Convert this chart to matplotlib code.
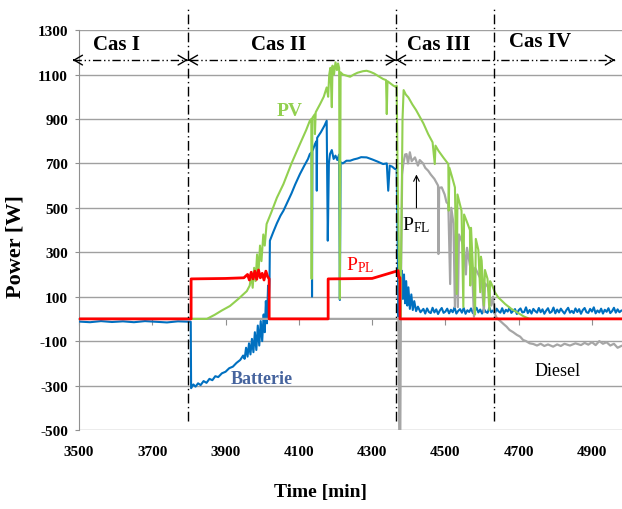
import matplotlib
matplotlib.use("Agg")
import matplotlib.pyplot as plt

plt.rcParams['font.family'] = ['Liberation Serif', 'DejaVu Serif']
plt.rcParams['axes.unicode_minus'] = False

# --- data (time in min, power in W) ---
pl_t = [3500, 3806, 3806, 3900, 3950, 3960, 3965, 3970, 3975, 3980, 3985, 3990,
        3995, 4000, 4005, 4010, 4015, 4019, 4019, 4180, 4180, 4300, 4371, 4373,
        4376, 4376, 4980]
pl_p = [0, 0, 180, 182, 185, 200, 175, 210, 180, 215, 178, 220,
        185, 205, 175, 215, 190, 180, 0, 0, 180, 182, 217, 188,
        185, 0, 0]

batt_t = [3500, 3530, 3560, 3590, 3620, 3650, 3680, 3710, 3740, 3770, 3805,
          3806, 3812, 3818, 3825, 3832, 3840, 3848, 3856, 3864, 3872, 3880,
          3890, 3900, 3910, 3920, 3930, 3940, 3948, 3952, 3956, 3960, 3964,
          3968, 3972, 3976, 3980, 3984, 3988, 3992, 3996, 4000, 4004, 4007,
          4010, 4013, 4016, 4018, 4020,
          4021, 4030, 4040, 4050, 4058, 4070, 4080, 4090, 4103, 4115, 4125,
          4130, 4135, 4136, 4137, 4144, 4148, 4149, 4150, 4160, 4170, 4176,
          4179, 4182, 4185, 4190, 4195, 4200, 4205, 4210, 4212, 4214, 4220,
          4230, 4240, 4250, 4260, 4270, 4285, 4300, 4315, 4330, 4340, 4344,
          4348, 4355, 4362, 4367, 4370, 4372, 4375, 4378, 4381, 4384, 4387,
          4390, 4393, 4396, 4399, 4403, 4407, 4411, 4415, 4420, 4425, 4432,
          4440, 4445, 4450, 4455, 4460, 4465, 4470, 4475, 4480, 4485, 4490,
          4495, 4500, 4505, 4510, 4515, 4520, 4525, 4530, 4535, 4540, 4545,
          4550, 4555, 4560, 4565, 4570, 4575, 4580, 4585, 4590, 4595, 4600,
          4605, 4610, 4615, 4620, 4625, 4630, 4635, 4640, 4645, 4650, 4655,
          4660, 4665, 4670, 4675, 4680, 4685, 4690, 4695, 4700, 4705, 4710,
          4715, 4720, 4725, 4730, 4735, 4740, 4745, 4750, 4755, 4760, 4765,
          4770, 4775, 4780, 4785, 4790, 4795, 4800, 4805, 4810, 4815, 4820,
          4825, 4830, 4835, 4840, 4845, 4850, 4855, 4860, 4865, 4870, 4875,
          4880, 4885, 4890, 4895, 4900, 4905, 4910, 4915, 4920, 4925, 4930,
          4935, 4940, 4945, 4950, 4955, 4960, 4965, 4970, 4975, 4980]
batt_p = [-12, -15, -10, -14, -11, -15, -10, -13, -16, -11, -13,
          -312, -295, -305, -290, -298, -280, -288, -270, -276, -258, -262,
          -245, -238, -222, -215, -198, -185, -165, -180, -130, -170, -110,
          -160, -90, -150, -60, -140, -30, -120, -10, -100, 20, -60,
          80, -20, 150, 60, 170,
          352, 390, 430, 465, 487, 530, 565, 605, 652, 690, 720,
          742, 750, 100, 755, 787, 800, 577, 815, 840, 870, 892,
          352, 700, 742, 760, 720, 735, 715, 740, 85, 705, 700,
          712, 712, 718, 722, 728, 727, 718, 708, 697, 700, 577,
          690, 685, 675, 675, 300, 10, 190, 120, 217, 90, 200,
          70, 170, 60, 142, 45, 110, 40, 80, 35, 55, 30,
          45, 24, 47, 31, 26, 50, 29, 43, 22, 38, 49,
          27, 33, 46, 25, 41, 30, 52, 24, 36, 44, 28,
          49, 23, 39, 31, 47, 26, 35, 50, 29, 42, 24,
          45, 32, 27, 51, 30, 38, 23, 46, 34, 28, 48,
          25, 41, 33, 50, 27, 36, 44, 22, 39, 47, 29,
          31, 52, 26, 40, 24, 45, 35, 28, 49, 30, 43,
          23, 37, 48, 27, 32, 51, 25, 42, 29, 46, 34,
          24, 39, 50, 28, 36, 26, 47, 31, 44, 23, 40,
          49, 30, 27, 45, 33, 52, 25, 38, 29, 46, 24,
          41, 32, 48, 26, 35, 50, 28, 43, 30, 37]

pv_t = [3806, 3849, 3870, 3890, 3912, 3935, 3958, 3966, 3970, 3974, 3978,
        3982, 3986, 3990, 3994, 3998, 4003, 4007, 4012, 4025, 4040, 4058,
        4080, 4103, 4120, 4130, 4134, 4135, 4137, 4143, 4144, 4146, 4158,
        4168, 4176, 4180, 4183, 4186, 4188, 4190, 4192, 4196, 4200, 4204,
        4207, 4210, 4212, 4214, 4220, 4230, 4240, 4250, 4260, 4275, 4285,
        4295, 4305, 4320, 4330, 4338, 4340, 4342, 4350, 4358, 4364, 4367,
        4370, 4374, 4377, 4380, 4383, 4386, 4392, 4399, 4410, 4420, 4426,
        4440, 4453, 4465, 4471, 4473, 4481, 4495, 4508, 4509, 4511, 4518,
        4526, 4531, 4533, 4544, 4549, 4551, 4558, 4567, 4568, 4570, 4581,
        4583, 4590, 4595, 4597, 4599, 4605, 4608, 4615, 4620, 4622, 4626,
        4635, 4644, 4655, 4663, 4680, 4700, 4715, 4730, 4980]
pv_p = [0, 0, 18, 38, 58, 90, 125, 150, 200, 140, 230,
        170, 290, 210, 330, 260, 380, 330, 427, 480, 545, 607,
        700, 787, 850, 892, 900, 180, 905, 920, 832, 930, 967,
        1000, 1042, 1000, 1100, 1130, 1050, 953, 1140, 1100, 1155, 1120,
        1150, 1130, 90, 1110, 1100, 1095, 1090, 1100, 1108, 1115, 1117,
        1112, 1105, 1090, 1080, 1075, 922, 1070, 1060, 1050, 1045, 1050,
        600, 200, 10, 400, 900, 1030, 1010, 997, 965, 940, 922,
        880, 832, 795, 697, 780, 757, 725, 697, 487, 680, 640,
        592, 112, 560, 487, 53, 470, 440, 400, 150, 410, 20,
        360, 310, 120, 280, 262, 60, 220, 180, 40, 170, 157,
        120, 97, 80, 67, 45, 25, 10, 0, 0]

dies_t = [3500, 4372, 4374, 4377, 4379, 4382, 4385, 4390, 4394, 4398, 4403,
          4408, 4417, 4425, 4430, 4439, 4445, 4453, 4460, 4470, 4480, 4481,
          4483, 4490, 4498, 4503, 4508, 4513, 4516, 4522, 4526, 4529, 4534,
          4537, 4544, 4550, 4556, 4559, 4567, 4572, 4578, 4581, 4590, 4599,
          4605, 4608, 4617, 4625, 4630, 4635, 4640, 4650, 4660, 4667, 4675,
          4685, 4695, 4704, 4712, 4720, 4730, 4740, 4750, 4760, 4770, 4780,
          4794, 4805, 4815, 4825, 4840, 4855, 4870, 4880, 4890, 4900, 4910,
          4920, 4930, 4940, 4950, 4960, 4970, 4980]
dies_p = [0, 0, -500, -500, 200, 650, 697, 740, 742, 700, 750,
          710, 727, 690, 715, 700, 680, 667, 650, 630, 600, 292,
          590, 592, 560, 525, 517, 157, 500, 430, 53, 400, 53,
          380, 352, 330, 200, 320, 240, 262, 10, 230, 200, 172,
          30, 160, 142, 60, 100, 22, 5, -10, -25, -35, -50,
          -60, -72, -80, -95, -100, -110, -113, -120, -112, -122, -115,
          -125, -115, -122, -112, -120, -110, -118, -108, -116, -105, -118,
          -100, -112, -105, -120, -112, -130, -122]

case_bounds = [3797, 4365, 4633]
case_labels = ['Cas I', 'Cas II', 'Cas III', 'Cas IV']
x_ticks = [3500, 3700, 3900, 4100, 4300, 4500, 4700, 4900]
y_ticks = [-500, -300, -100, 100, 300, 500, 700, 900, 1100, 1300]

fig = plt.figure(figsize=(6.22, 5.10), dpi=100)
ax = fig.add_axes([0.127, 0.155, 0.873, 0.784])

ax.plot(batt_t, batt_p, color='#0070C0', lw=1.5, zorder=3)
ax.plot(dies_t, dies_p, color='#A6A6A6', lw=1.6, zorder=4)
ax.plot(pv_t, pv_p, color='#92D050', lw=1.5, zorder=5)
ax.plot(pl_t, pl_p, color='#FF0000', lw=2.0, zorder=6)

ax.set_xlim(3500, 4982)
ax.set_ylim(-500, 1300)
ax.set_yticks(y_ticks)
ax.grid(axis='y', color='#A0A0A0', lw=1)
ax.set_axisbelow(True)
for s in ['top', 'right']:
    ax.spines[s].set_visible(False)
ax.spines['left'].set_color('#909090')
ax.spines['bottom'].set_position(('data', 0))
ax.spines['bottom'].set_color('#A6A6A6')
ax.spines['bottom'].set_linewidth(1.2)
ax.set_xticks(x_ticks)
ax.tick_params(axis='x', length=4, color='#909090', labelbottom=False)
ax.tick_params(axis='y', length=3, color='#909090', pad=5, labelsize=11)
for lab in ax.get_yticklabels():
    lab.set_fontweight('bold')

sec = ax.secondary_xaxis('bottom')
sec.set_xticks(x_ticks)
sec.tick_params(length=0, pad=11, labelsize=11)
sec.spines['bottom'].set_visible(False)
for lab in sec.get_xticklabels():
    lab.set_fontweight('bold')

ax.set_ylabel('Power [W]', fontsize=16, fontweight='bold')
ax.yaxis.set_label_coords(-0.098, 0.46)
ax.set_xlabel('Time [min]', fontsize=14, fontweight='bold')
ax.xaxis.set_label_coords(0.444, -0.132)

# case separators
for xb in case_bounds:
    ax.plot([xb, xb], [-460, 1395], color='black', lw=1,
            dashes=(7, 2.5, 1, 2.5), clip_on=False, zorder=7)

# case arrows
ya = 1165
ends = [3483] + case_bounds[:2] + [4963]
ax.plot([ends[0], ends[-1]], [ya, ya], color='black', lw=1,
        dashes=(6, 2, 1, 2, 1, 2), clip_on=False, zorder=7)
head = dict(arrowstyle='->,head_length=0.6,head_width=0.35', lw=1,
            color='black', shrinkA=0, shrinkB=0)
for a, b in zip(ends[:-1], ends[1:]):
    ax.annotate('', xy=(a, ya), xytext=(a + 3, ya), arrowprops=head,
                annotation_clip=False)
    ax.annotate('', xy=(b, ya), xytext=(b - 3, ya), arrowprops=head,
                annotation_clip=False)

label_pos = [(3603, 1237), (4046, 1237), (4483, 1237), (4758, 1252)]
for txt, (xl, yl) in zip(case_labels, label_pos):
    ax.text(xl, yl, txt, ha='center', va='center', fontsize=15,
            fontweight='bold', zorder=8)

# series annotations
ax.text(4075, 937, 'PV', color='#92D050', fontsize=14, fontweight='bold',
        ha='center', va='center')
ax.text(3999, -270, 'Batterie', color='#46649E', fontsize=13,
        fontweight='bold', ha='center', va='center')
ax.text(4805, -234, 'Diesel', color='black', fontsize=13,
        ha='center', va='center')
ax.text(4228, 221, r'$\mathregular{P_{PL}}$', color='#FF0000', fontsize=14,
        ha='left', va='baseline')
ax.text(4381, 405, r'$\mathregular{P_{FL}}$', color='black', fontsize=14,
        ha='left', va='baseline')
ax.annotate('', xy=(4421, 650), xytext=(4421, 500),
            arrowprops=dict(arrowstyle='->', lw=0.8, color='black',
                            shrinkA=0, shrinkB=0), zorder=9)

fig.savefig('out.png', dpi=100)
